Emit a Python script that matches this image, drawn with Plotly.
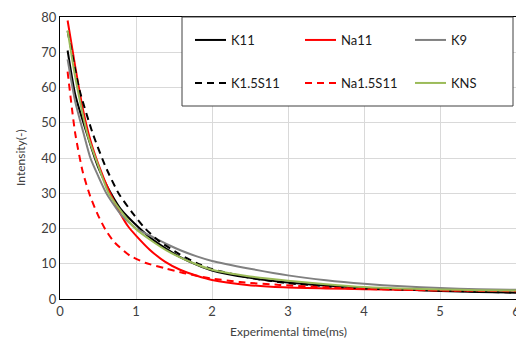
import plotly.graph_objects as go

# Data
t_k11 = [0.1, 0.2, 0.34, 0.5, 0.67, 0.8, 1.05, 1.2, 1.4, 1.58, 1.8, 2.0, 2.5, 3.0, 3.5, 4.0, 4.5, 5.0, 5.5, 6.0]
v_k11 = [70.5, 58, 47.8, 37.5, 30, 25.5, 20, 17.2, 14.2, 11.9, 9.7, 8.1, 6.0, 4.7, 3.8, 3.2, 2.7, 2.3, 2.0, 1.8]

t_na11 = [0.1, 0.2, 0.3, 0.4, 0.5, 0.66, 0.8, 0.9, 1.0, 1.18, 1.38, 1.58, 1.8, 2.0, 2.46, 2.94, 3.5, 4.0, 4.5, 5.0, 5.5, 6.0]
v_na11 = [79, 66, 54, 45, 38.5, 30, 24, 20.5, 18, 14, 10.6, 8.3, 6.6, 5.4, 4.0, 3.3, 3.0, 2.8, 2.6, 2.5, 2.4, 2.4]

t_k9 = [0.1, 0.2, 0.31, 0.4, 0.5, 0.61, 0.8, 1.0, 1.2, 1.4, 1.6, 1.8, 2.0, 2.5, 3.0, 3.5, 4.0, 4.5, 5.0, 5.5, 6.0]
v_k9 = [68, 56, 47, 40, 35, 30, 24, 20, 17.8, 15.6, 13.7, 12.1, 10.8, 8.6, 6.7, 5.3, 4.3, 3.6, 3.1, 2.8, 2.6]

t_k15s11 = [0.1, 0.2, 0.26, 0.43, 0.6, 0.77, 0.95, 1.12, 1.3, 1.58, 1.8, 2.0, 2.5, 3.0, 3.5, 4.0, 4.5, 5.0, 5.5, 6.0]
v_k15s11 = [76, 65, 59, 47, 37.5, 30, 24.5, 20, 16.5, 12.6, 10.2, 8.5, 6.0, 4.5, 3.6, 3.0, 2.7, 2.4, 2.1, 1.8]

t_na15s11 = [0.1, 0.2, 0.3, 0.4, 0.5, 0.6, 0.72, 0.92, 1.12, 1.4, 1.62, 1.97, 2.37, 2.89, 3.5, 4.0, 4.5, 5.0, 5.5, 6.0]
v_na15s11 = [64.5, 47, 36, 29, 23.8, 19.6, 16, 12.3, 10.3, 8.6, 7.4, 5.9, 4.8, 4.0, 3.3, 2.9, 2.6, 2.4, 2.3, 2.2]

t_kns = [0.1, 0.2, 0.37, 0.5, 0.64, 0.8, 0.99, 1.2, 1.4, 1.6, 1.8, 2.0, 2.5, 3.0, 3.5, 4.0, 4.5, 5.0, 5.5, 6.0]
v_kns = [76.2, 63, 46, 38, 30, 25, 20, 16.6, 13.8, 11.6, 9.8, 8.3, 6.4, 5.2, 4.2, 3.4, 3.0, 2.7, 2.5, 2.4]

x_ticks = [0, 1, 2, 3, 4, 5, 6]
y_ticks = [0, 10, 20, 30, 40, 50, 60, 70, 80]
x_title = "Experimental time(ms)"
y_title = "Intensity(-)"

series = [
    ("K11", t_k11, v_k11, "#000000", "solid", "legend"),
    ("Na11", t_na11, v_na11, "#FF0000", "solid", "legend"),
    ("K9", t_k9, v_k9, "#808080", "solid", "legend"),
    ("K1.5S11", t_k15s11, v_k15s11, "#000000", "7px,5px", "legend2"),
    ("Na1.5S11", t_na15s11, v_na15s11, "#FF0000", "7px,5px", "legend2"),
    ("KNS", t_kns, v_kns, "#9BBB59", "solid", "legend2"),
]

fig = go.Figure()
for name, t, v, color, dash, leg in series:
    fig.add_trace(go.Scatter(
        x=t, y=v, name=name, mode="lines",
        line=dict(color=color, width=2, dash=dash, shape="spline", smoothing=0.6),
        legend=leg,
    ))

font_family = "Lato, 'Liberation Sans', sans-serif"
legend_common = dict(
    orientation="h", xanchor="left", yanchor="middle",
    bgcolor="rgba(0,0,0,0)", borderwidth=0,
    font=dict(family=font_family, size=13, color="#1a1a1a"),
    entrywidth=64, entrywidthmode="pixels",
    itemwidth=31,
)

# page body adds an 8px offset; window coordinates below are relative to the window
OFF = 8
W, H = 524 - OFF, 342 - OFF
PL, PR, PT, PB = 60, 516, 17, 299  # plot area in window pixels
L = PL - OFF
T = PT - OFF
pw, ph = PR - PL, PB - PT
R = W - L - pw
B = H - T - ph

fig.update_layout(
    width=W, height=H,
    margin=dict(l=L, r=R, t=T, b=B, autoexpand=False),
    paper_bgcolor="white", plot_bgcolor="white",
    font=dict(family=font_family, size=13, color="#404040"),
    legend=dict(x=(190 - PL) / pw, y=(PB - 40) / ph, **legend_common),
    legend2=dict(x=(190 - PL) / pw, y=(PB - 83) / ph, **legend_common),
    xaxis=dict(
        range=[0, 6], tickvals=x_ticks, showgrid=True, gridcolor="#D9D9D9", gridwidth=1,
        showline=True, linecolor="#000000", linewidth=1, mirror=True, zeroline=False,
        ticks="", tickfont=dict(size=13, color="#404040"), automargin=False,
    ),
    yaxis=dict(
        range=[0, 80], tickvals=y_ticks, showgrid=True, gridcolor="#D9D9D9", gridwidth=1,
        showline=True, linecolor="#000000", linewidth=1, mirror=True, zeroline=False,
        ticks="", tickfont=dict(size=13, color="#404040"), automargin=False,
    ),
    shapes=[dict(
        type="rect", xref="paper", yref="paper",
        x0=(182 - PL) / pw, x1=(513 - PL) / pw, y0=(PB - 106) / ph, y1=1.0,
        line=dict(color="#404040", width=1), fillcolor="white", layer="above",
    )],
    annotations=[
        dict(text=x_title, xref="paper", yref="paper", x=0.5, y=(PB - 331) / ph,
             xanchor="center", yanchor="middle", showarrow=False,
             font=dict(size=12, color="#404040")),
        dict(text=y_title, xref="paper", yref="paper", x=(20 - PL) / pw, y=0.5,
             xanchor="center", yanchor="middle", showarrow=False, textangle=-90,
             font=dict(size=12, color="#404040")),
    ],
    showlegend=True,
)

fig.write_html("out.html")
